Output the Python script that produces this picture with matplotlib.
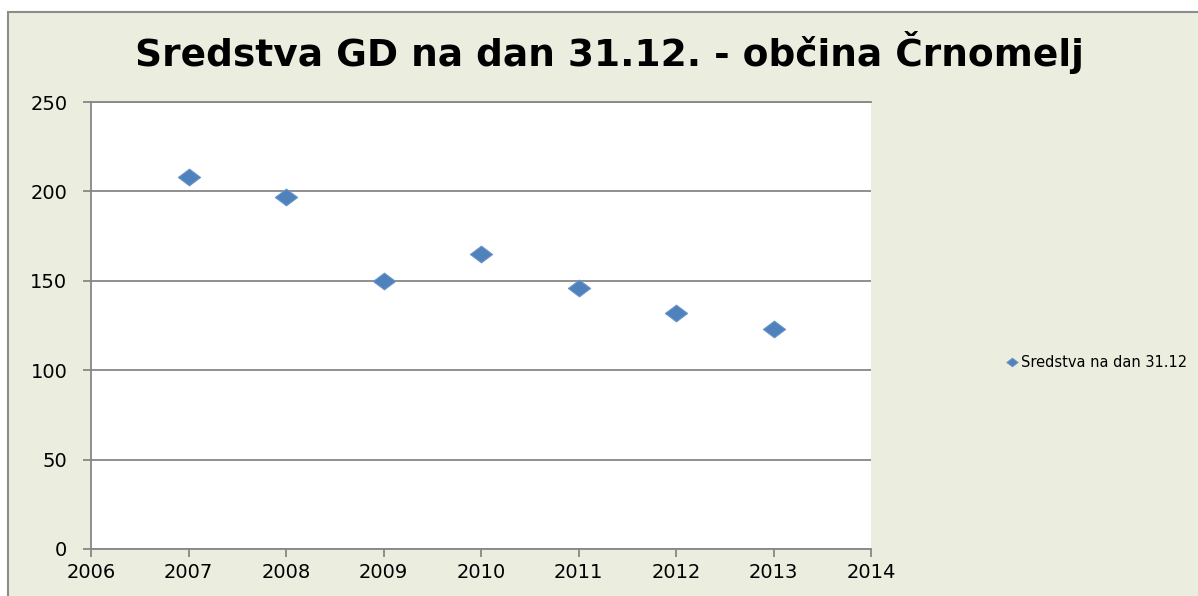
import numpy as np
import matplotlib.pyplot as plt
from matplotlib.patches import Rectangle
from matplotlib.path import Path

years = [2007, 2008, 2009, 2010, 2011, 2012, 2013]
sredstva = [208, 197, 150, 165, 146, 132, 123]
series_label = "Sredstva na dan 31.12"
title = "Sredstva GD na dan 31.12. - občina Črnomelj"

BG = "#EBEEDF"
GRID = "#878787"
BLUE = "#4F81BD"

fig = plt.figure(figsize=(11.98, 5.96), dpi=100)
fig.patch.set_facecolor("white")
# chart area with grey border (cut off on right and bottom like the source)
fig.patches.append(Rectangle((8 / 1198, -0.1), 1.1, (596 - 12) / 596 + 0.1,
                             transform=fig.transFigure, facecolor=BG,
                             edgecolor="#8C8C8C", linewidth=1.5, zorder=-1))

ax = fig.add_axes([91 / 1198, 47 / 596, 780 / 1198, 447 / 596])
ax.set_zorder(1)
ax.set_facecolor("white")

diamond = Path([(-1, 0), (0, 0.75), (1, 0), (0, -0.75), (-1, 0)],
               [Path.MOVETO, Path.LINETO, Path.LINETO, Path.LINETO, Path.CLOSEPOLY])
ax.plot(years, sredstva, linestyle="none", marker=diamond, markersize=16,
        markerfacecolor=BLUE, markeredgecolor="#6A93C8", markeredgewidth=0.8,
        label=series_label, zorder=3)

ax.set_xlim(2006, 2014)
ax.set_ylim(0, 250)
ax.set_xticks(range(2006, 2015))
ax.set_yticks(range(0, 251, 50))
ax.grid(axis="y", color=GRID, linewidth=1.3)
ax.set_axisbelow(True)
ax.spines["right"].set_visible(False)
for s in ["left", "bottom", "top"]:
    ax.spines[s].set_color(GRID)
    ax.spines[s].set_linewidth(1.3)
ax.tick_params(axis="both", direction="out", length=6, width=1.3, color=GRID,
               labelsize=14, labelcolor="black")
ax.tick_params(axis="y", pad=11)
ax.tick_params(axis="x", pad=4)

fig.text(0.509, 0.912, title, ha="center", va="center", fontsize=27,
         fontweight="bold", family=["Liberation Sans Narrow", "DejaVu Sans"])

leg = fig.legend(loc="center left", bbox_to_anchor=(0.828, 0.392), frameon=False,
                 fontsize=10.5, handletextpad=0.1, markerscale=0.5, handlelength=1.0)

plt.savefig("out.png", dpi=100)
